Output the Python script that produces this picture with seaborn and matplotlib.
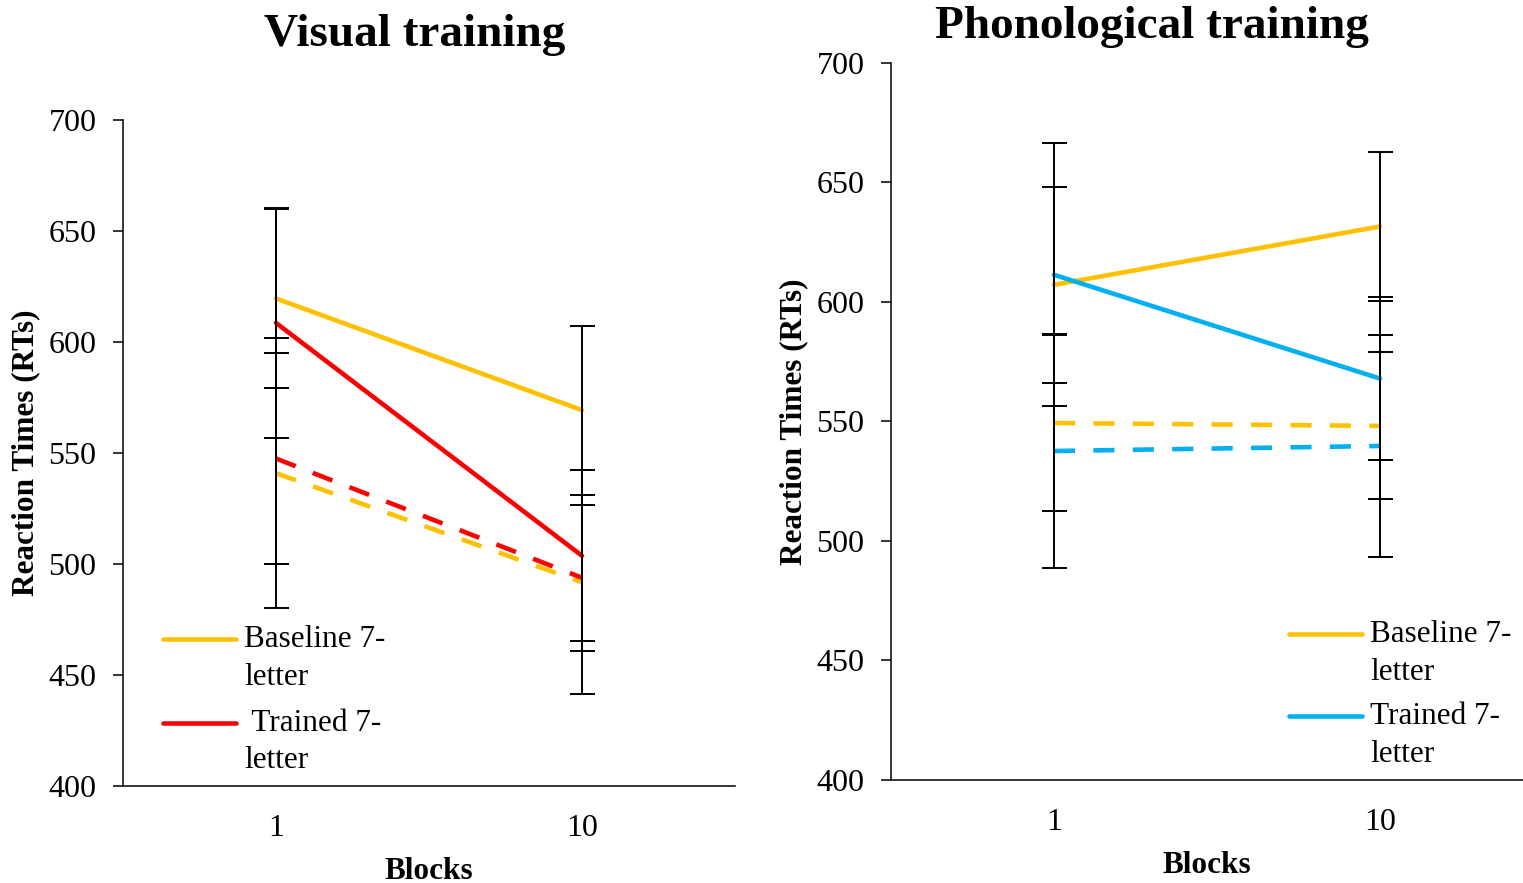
import numpy as np
import pandas as pd
import matplotlib
matplotlib.use("Agg")
import matplotlib.pyplot as plt
from matplotlib.lines import Line2D
from matplotlib.legend_handler import HandlerLine2D
import seaborn as sns

# ---------------- data ----------------
blocks = ["1", "10"]
series_names = ["Baseline 7-letter", "Trained 7-letter", "Baseline other", "Trained other"]

vis_base_solid = [619.6, 569.3]
vis_train_solid = [608.6, 503.7]
vis_base_dash = [540.9, 491.8]
vis_train_dash = [547.5, 493.8]
vis_base_solid_err = [40.4, 38.0]
vis_train_solid_err = [51.9, 38.5]
vis_base_dash_err = [60.9, 50.5]
vis_train_dash_err = [47.4, 32.8]

pho_base_solid = [607.1, 631.5]
pho_train_solid = [611.3, 567.9]
pho_base_dash = [549.3, 548.1]
pho_train_dash = [537.6, 539.7]
pho_base_solid_err = [41.0, 31.0]
pho_train_solid_err = [55.0, 34.0]
pho_base_dash_err = [37.0, 30.7]
pho_train_dash_err = [49.0, 46.5]

titles = ["Visual training", "Phonological training"]
legend_labels_vis = ["Baseline 7-\nletter", " Trained 7-\nletter"]
legend_labels_pho = ["Baseline 7-\nletter", "Trained 7-\nletter"]
yticks = [400, 450, 500, 550, 600, 650, 700]

ORANGE = "#FFC000"
RED = "#FF0000"
BLUE = "#00B0F0"

# ---------------- style ----------------
sns.set_theme(style="white")
plt.rcParams["font.family"] = ["Liberation Serif", "DejaVu Serif"]
plt.rcParams["axes.edgecolor"] = "black"
plt.rcParams["axes.linewidth"] = 1.1
plt.rcParams["text.color"] = "black"
plt.rcParams["axes.labelcolor"] = "black"
plt.rcParams["xtick.color"] = "black"
plt.rcParams["ytick.color"] = "black"

fig = plt.figure(figsize=(15.23, 8.83), dpi=100)
ax1 = fig.add_axes([123 / 1523, 1 - 786 / 883, (735 - 123) / 1523, (786 - 120) / 883])
ax2 = fig.add_axes([891 / 1523, 1 - 780 / 883, (1523 - 891) / 1523, (780 - 62.7) / 883])

LW = 3.3


class UpHandler(HandlerLine2D):
    """Place the legend line next to the first text line of a two-line label."""
    def __init__(self, shift, **kw):
        super().__init__(**kw)
        self.shift = shift

    def create_artists(self, legend, orig_handle, xdescent, ydescent, width,
                       height, fontsize, trans):
        arts = super().create_artists(legend, orig_handle, xdescent, ydescent,
                                      width, height, fontsize, trans)
        for a in arts:
            if isinstance(a, Line2D):
                a.set_ydata(np.asarray(a.get_ydata(), dtype=float) + self.shift)
        return arts


def build_df(vals):
    rows = []
    for name, v in zip(series_names, vals):
        for i, b in enumerate(blocks):
            rows.append({"pos": i, "block": b, "rt": v[i], "series": name})
    return pd.DataFrame(rows)


def draw_panel(ax, vals, errs, train_color, legend_labels, xlim, legend_anchor, lspace):
    df = build_df(vals)
    palette = {series_names[0]: ORANGE, series_names[1]: train_color,
               series_names[2]: ORANGE, series_names[3]: train_color}
    dashes = {series_names[0]: "", series_names[1]: "",
              series_names[2]: (4.6, 4.0), series_names[3]: (4.6, 4.0)}
    sns.lineplot(data=df, x="pos", y="rt", hue="series", style="series",
                 hue_order=series_names, style_order=series_names,
                 palette=palette, dashes=dashes, linewidth=LW,
                 legend=False, ax=ax, zorder=2,
                 solid_capstyle="round", dash_capstyle="butt")
    x = np.arange(len(blocks))
    for v, e in zip(vals, errs):
        ax.errorbar(x, v, yerr=e, fmt="none", ecolor="black", elinewidth=1.4,
                    capsize=9, capthick=1.4, zorder=3)
    ax.set_xlim(*xlim)
    ax.set_ylim(400, 700)
    ax.set_yticks(yticks)
    ax.set_xticks(x)
    ax.set_xticklabels(blocks)
    for s in ["top", "right"]:
        ax.spines[s].set_visible(False)
    ax.tick_params(axis="y", which="major", direction="out", length=7, width=1.1,
                   left=True, labelsize=23, pad=12, colors="black")
    ax.tick_params(axis="x", which="major", length=0, labelsize=23, pad=20,
                   colors="black")
    ax.set_xlabel("Blocks", fontsize=22.5, fontweight="bold", labelpad=10)
    ax.set_ylabel("Reaction Times (RTs)", fontsize=22.5, fontweight="bold", labelpad=6)
    handles = [Line2D([0], [0], color=ORANGE, lw=LW, solid_capstyle="round"),
               Line2D([0], [0], color=train_color, lw=LW, solid_capstyle="round")]
    leg = ax.legend(handles, legend_labels, loc="upper left", bbox_to_anchor=legend_anchor,
                    bbox_transform=fig.transFigure, frameon=False, fontsize=22.5,
                    handlelength=2.35, handletextpad=0.25, labelspacing=lspace,
                    borderpad=0, borderaxespad=0,
                    handler_map={Line2D: UpHandler(13.8)})
    for t in leg.get_texts():
        t.set_linespacing(1.39)


draw_panel(ax1,
           [vis_base_solid, vis_train_solid, vis_base_dash, vis_train_dash],
           [vis_base_solid_err, vis_train_solid_err, vis_base_dash_err, vis_train_dash_err],
           RED, legend_labels_vis, (-0.5, 1.5), (163 / 1523, 1 - 625 / 883), 0.55)
draw_panel(ax2,
           [pho_base_solid, pho_train_solid, pho_base_dash, pho_train_dash],
           [pho_base_solid_err, pho_train_solid_err, pho_base_dash_err, pho_train_dash_err],
           BLUE, legend_labels_pho, (-0.5, 1.439), (1289 / 1523, 1 - 620 / 883), 0.5)

fig.text(415 / 1523, 1 - 46 / 883, titles[0], ha="center", va="baseline",
         fontsize=34, fontweight="bold")
fig.text(1152 / 1523, 1 - 38 / 883, titles[1], ha="center", va="baseline",
         fontsize=34, fontweight="bold")

fig.savefig("out.png", dpi=100, facecolor="white")
